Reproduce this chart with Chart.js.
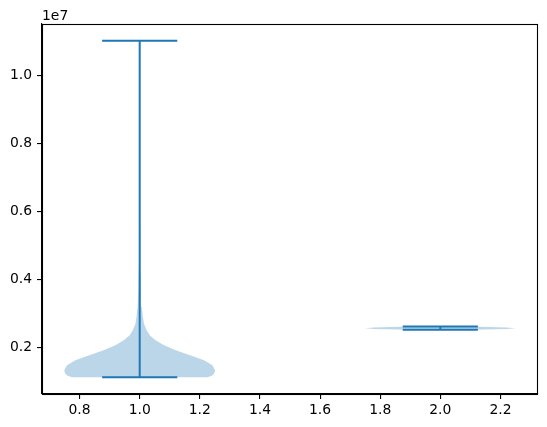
<!DOCTYPE html>
<html>
<head>
<meta charset="utf-8">
<script src="https://cdn.jsdelivr.net/npm/chart.js"></script>
<style>
  html, body { margin: 0; padding: 0; background: #fff; }
  #wrap { width: 547px; height: 427px; }
</style>
</head>
<body>
<div id="wrap"><canvas id="c" width="547" height="427"></canvas></div>
<script>
// ── data ────────────────────────────────────────────────────────────────────
const positions = [1, 2];
const violinWidth = 0.5;
const mins  = [1120000, 2515000];
const maxes = [11030000, 2612000];

// violin 1 outline: value -> half width (x units)
const v1Y = [1120000, 1160000, 1230000, 1320000, 1470000, 1620000, 1760000, 1910000,
             2060000, 2210000, 2350000, 2500000, 2700000, 2940000, 3190000, 3680000,
             4200000, 5000000, 6000000, 8000000, 11030000];
const v1W = [0.225, 0.240, 0.248, 0.251, 0.242, 0.214, 0.170, 0.120,
             0.081, 0.053, 0.034, 0.023, 0.014, 0.010, 0.007, 0.0045,
             0.0035, 0.002, 0.001, 0.0005, 0];

// violin 2 outline
const v2Y = [2515000, 2540000, 2563000, 2587000, 2612000];
const v2W = [0.10, 0.22, 0.25, 0.22, 0.10];

const xTicks = [0.8, 1.0, 1.2, 1.4, 1.6, 1.8, 2.0, 2.2];
const yTicks = [2000000, 4000000, 6000000, 8000000, 10000000];

// ── build ───────────────────────────────────────────────────────────────────
const BLUE = '#1f77b4';
const BODY = 'rgba(31,119,180,0.3)';
const FONT = { family: 'DejaVu Sans', size: 13.9 };

function outline(pos, ys, ws) {
    const right = ys.map((y, i) => ({ x: pos + ws[i], y }));
    const left = ys.map((y, i) => ({ x: pos - ws[i], y })).reverse();
    return right.concat(left);
}

const seg = (data) => ({
    data, showLine: true, borderColor: BLUE, borderWidth: 2,
    pointRadius: 0, fill: false, order: 1
});

const datasets = [
    { data: outline(positions[0], v1Y, v1W), showLine: true, borderWidth: 0,
      borderColor: 'rgba(0,0,0,0)', backgroundColor: BODY, fill: 'shape', pointRadius: 0, order: 2 },
    { data: outline(positions[1], v2Y, v2W), showLine: true, borderWidth: 0,
      borderColor: 'rgba(0,0,0,0)', backgroundColor: BODY, fill: 'shape', pointRadius: 0, order: 2 }
];
positions.forEach((p, i) => {
    const hw = violinWidth / 4;
    datasets.push(seg([{ x: p - hw, y: maxes[i] }, { x: p + hw, y: maxes[i] }]));
    datasets.push(seg([{ x: p - hw, y: mins[i] }, { x: p + hw, y: mins[i] }]));
    datasets.push(seg([{ x: p, y: mins[i] }, { x: p, y: maxes[i] }]));
});

// matplotlib-style 5% margins
const xLo = positions[0] - violinWidth / 2, xHi = positions[positions.length - 1] + violinWidth / 2;
const yLo = Math.min(...mins), yHi = Math.max(...maxes);
const xPad = (xHi - xLo) * 0.05, yPad = (yHi - yLo) * 0.05;

const frame = {
    id: 'frame',
    afterDraw(chart) {
        const { ctx, chartArea: a } = chart;
        ctx.save();
        ctx.strokeStyle = '#000';
        ctx.lineWidth = 1.1;
        ctx.strokeRect(Math.round(a.left) + 0.5, Math.round(a.top) + 0.5,
                       Math.round(a.right - a.left) - 1, Math.round(a.bottom - a.top));
        ctx.fillStyle = '#000';
        ctx.font = FONT.size + 'px "' + FONT.family + '"';
        ctx.textAlign = 'left';
        ctx.textBaseline = 'alphabetic';
        ctx.fillText('1e7', a.left, a.top - 4);
        ctx.restore();
    }
};

new Chart(document.getElementById('c').getContext('2d'), {
    type: 'scatter',
    data: { datasets },
    options: {
        responsive: false,
        animation: false,
        layout: { padding: { top: 24, right: 9, left: 0, bottom: 0 } },
        plugins: { legend: { display: false }, tooltip: { enabled: false } },
        scales: {
            x: {
                type: 'linear', min: xLo - xPad, max: xHi + xPad,
                afterBuildTicks: (s) => { s.ticks = xTicks.map(v => ({ value: v })); },
                afterFit: (s) => { s.height = 33; },
                grid: { drawOnChartArea: false, drawTicks: true, tickLength: 5, color: '#000', lineWidth: 1.1 },
                border: { display: true, color: '#000', width: 1.1 },
                ticks: { color: '#000', font: FONT, padding: 3, maxRotation: 0,
                         callback: (v) => v.toFixed(1) }
            },
            y: {
                type: 'linear', min: yLo - yPad, max: yHi + yPad,
                afterBuildTicks: (s) => { s.ticks = yTicks.map(v => ({ value: v })); },
                afterFit: (s) => { s.width = 42; },
                grid: { drawOnChartArea: false, drawTicks: true, tickLength: 5, color: '#000', lineWidth: 1.1 },
                border: { display: true, color: '#000', width: 1.1 },
                ticks: { color: '#000', font: FONT, padding: 5,
                         callback: (v) => (v / 1e7).toFixed(1) }
            }
        }
    },
    plugins: [frame]
});
</script>
</body>
</html>
